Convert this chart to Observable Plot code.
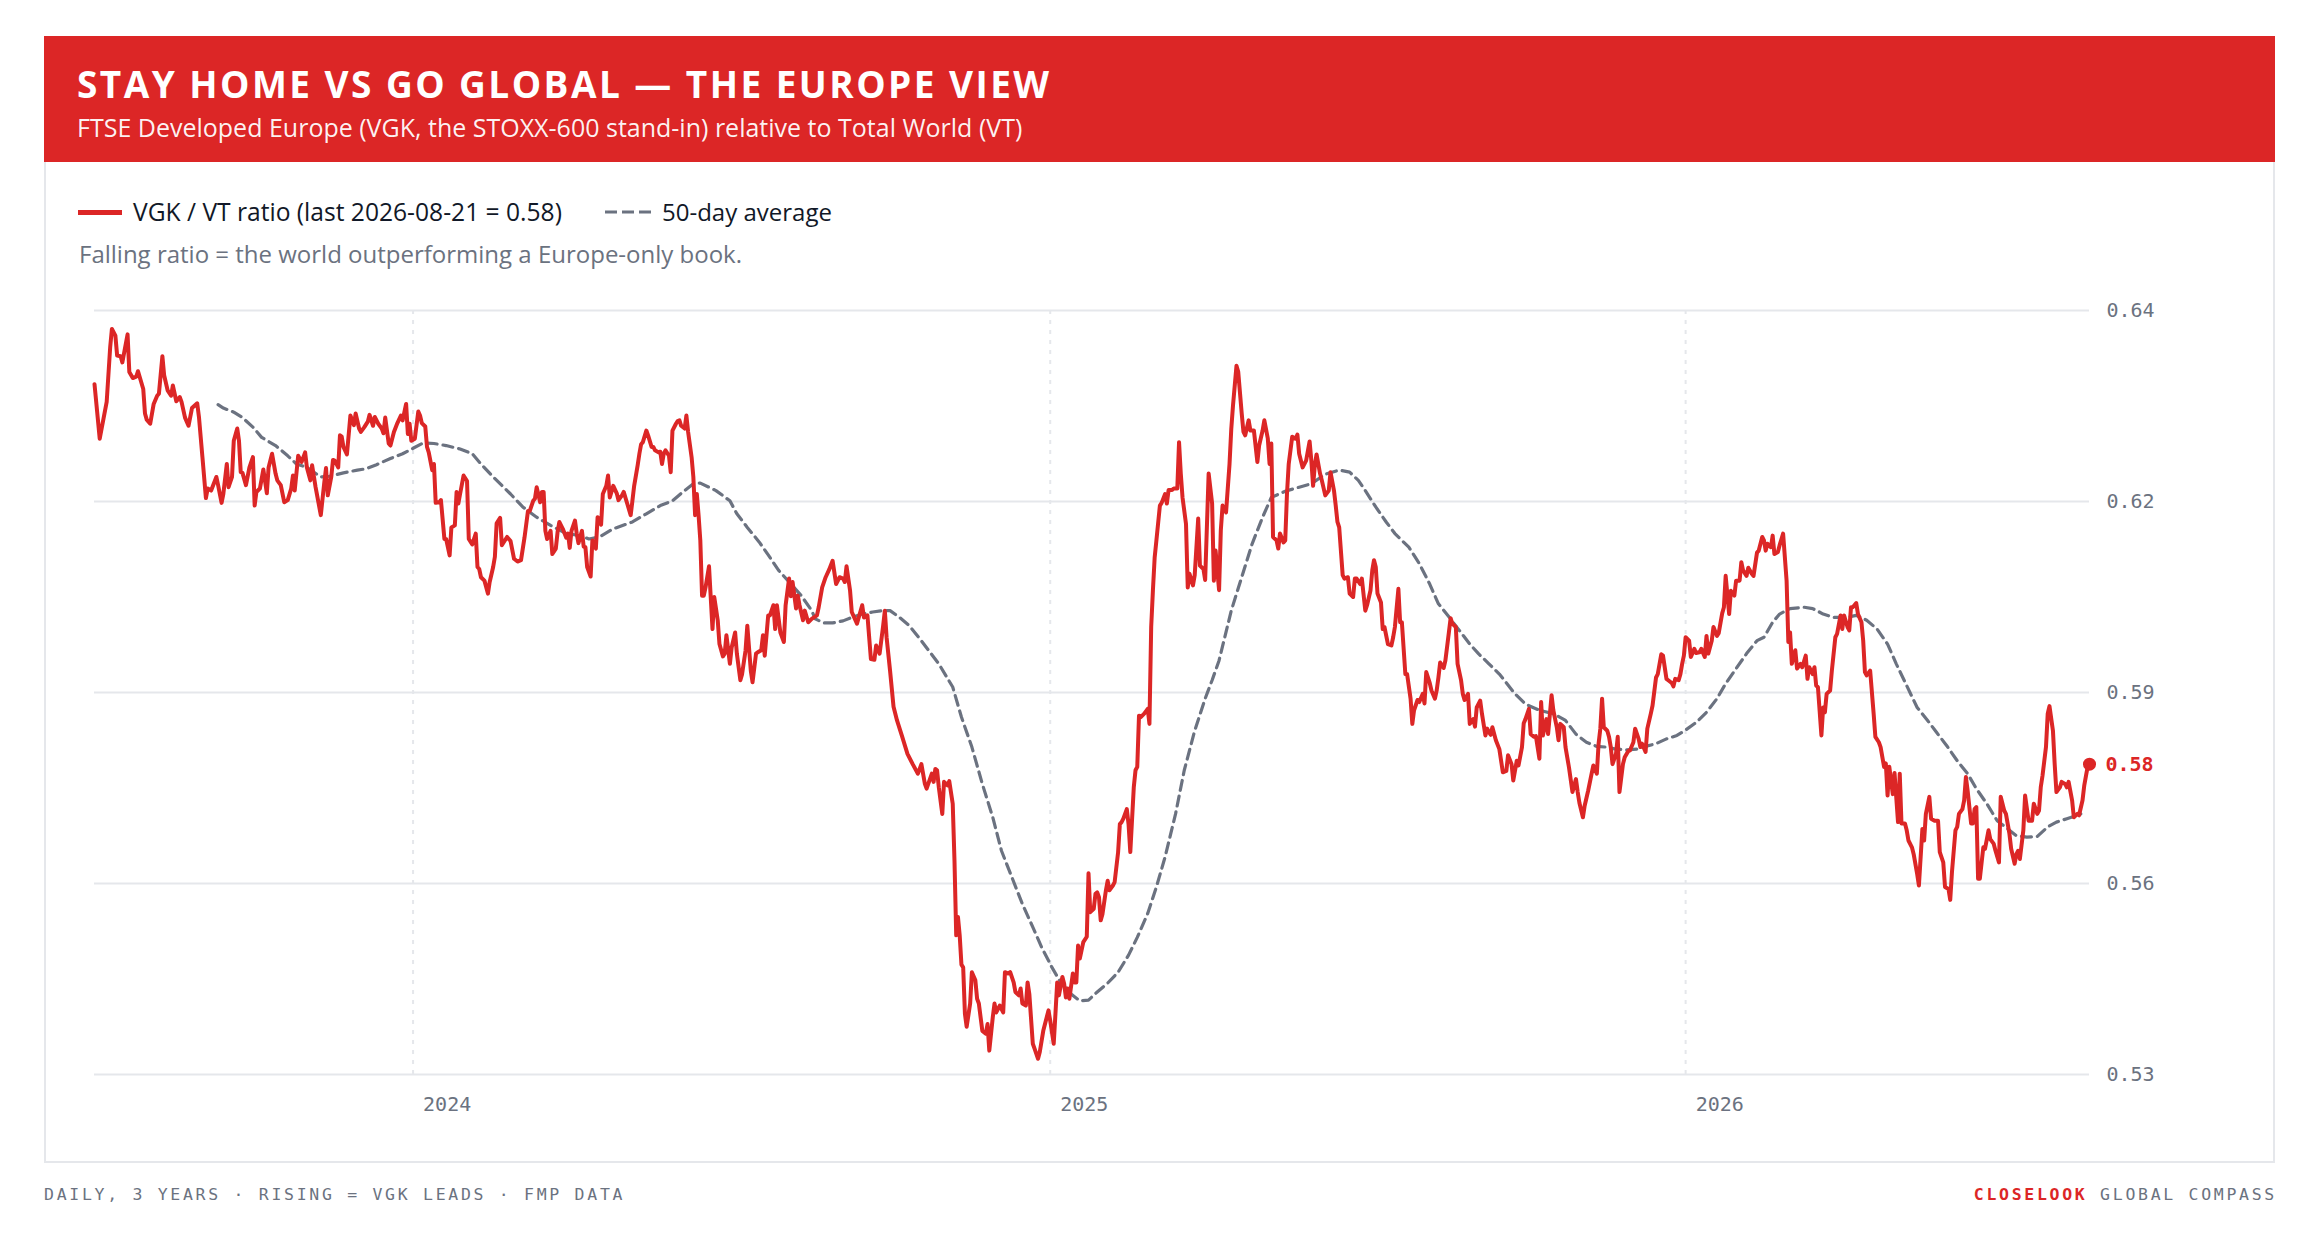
<!DOCTYPE html>
<html><head><meta charset="utf-8">
<script src="https://cdn.jsdelivr.net/npm/d3@7"></script>
<script src="https://cdn.jsdelivr.net/npm/@observablehq/plot@0.6"></script>
<style>
html,body{margin:0;padding:0;background:#fff}
body{width:2320px;height:1242px;position:relative;overflow:hidden;font-family:"Open Sans",sans-serif}
.abs{position:absolute;white-space:nowrap}
#card{left:44px;top:36px;width:2231px;height:1127px;border:2px solid #e5e7eb;box-sizing:border-box}
#header{left:44px;top:36px;width:2231px;height:126px;background:#dc2626}
#title{left:77px;top:65px;font-size:37px;line-height:37px;font-weight:700;color:#fff;letter-spacing:2.45px}
#subtitle{left:77px;top:115px;font-size:25px;line-height:25px;color:rgba(255,255,255,0.95)}
.legtext{font-size:24px;line-height:24px;color:#111827}
#note{left:79px;top:242px;font-size:24px;line-height:24px;color:#6b7280}
.foot{top:1186px;font-family:"DejaVu Sans Mono",monospace;font-size:16.5px;line-height:17px;letter-spacing:2.7px;color:#6b7280}
#chart{left:44px;top:290px}
</style></head>
<body>
<div id="card" class="abs"></div>
<div id="header" class="abs"></div>
<div id="title" class="abs">STAY HOME VS GO GLOBAL — THE EUROPE VIEW</div>
<div id="subtitle" class="abs">FTSE Developed Europe (VGK, the STOXX-600 stand-in) relative to Total World (VT)</div>
<div class="abs" style="left:78px;top:210px;width:44px;height:5px;background:#dc2626"></div>
<div id="leg1" class="abs legtext" style="left:133px;top:200px;font-size:24.6px"></div>
<svg class="abs" style="left:605px;top:209px" width="47" height="6"><line x1="0" x2="47" y1="3" y2="3" stroke="#6b7280" stroke-width="3.2" stroke-dasharray="12,5"/></svg>
<div class="abs legtext" style="left:662px;top:200px">50-day average</div>
<div id="note" class="abs">Falling ratio = the world outperforming a Europe-only book.</div>
<div id="chart" class="abs"></div>
<div class="abs foot" style="left:44px">DAILY, 3 YEARS · RISING = VGK LEADS · FMP DATA</div>
<div class="abs foot" style="right:43px"><span style="color:#dc2626;font-weight:700">CLOSELOOK</span> GLOBAL COMPASS</div>
<script>
// VGK / VT daily ratio
const ratioPoints = [
["2023-07-02",0.6332],["2023-07-05",0.6252],["2023-07-09",0.6306],["2023-07-11",0.6386],["2023-07-12",0.6413],["2023-07-14",0.6403],["2023-07-15",0.6374],["2023-07-17",0.6373],["2023-07-18",0.6364],["2023-07-21",0.6405],["2023-07-22",0.6350],["2023-07-24",0.6341],["2023-07-26",0.6343],["2023-07-27",0.6351],["2023-07-30",0.6325],["2023-07-31",0.6289],
["2023-08-01",0.6280],["2023-08-03",0.6274],["2023-08-05",0.6303],["2023-08-07",0.6315],["2023-08-08",0.6318],["2023-08-10",0.6373],["2023-08-11",0.6345],["2023-08-13",0.6323],["2023-08-15",0.6315],["2023-08-16",0.6330],["2023-08-18",0.6307],["2023-08-20",0.6313],["2023-08-21",0.6306],["2023-08-23",0.6283],["2023-08-25",0.6271],["2023-08-27",0.6297],["2023-08-30",0.6304],["2023-08-31",0.6284],
["2023-09-02",0.6225],["2023-09-04",0.6165],["2023-09-05",0.6179],["2023-09-07",0.6176],["2023-09-10",0.6196],["2023-09-11",0.6184],["2023-09-13",0.6158],["2023-09-14",0.6171],["2023-09-16",0.6215],["2023-09-17",0.6181],["2023-09-19",0.6196],["2023-09-20",0.6249],["2023-09-22",0.6267],["2023-09-23",0.6249],["2023-09-24",0.6203],["2023-09-25",0.6202],["2023-09-27",0.6184],["2023-09-29",0.6210],
["2023-10-01",0.6225],["2023-10-02",0.6154],["2023-10-03",0.6174],["2023-10-05",0.6179],["2023-10-07",0.6207],["2023-10-09",0.6172],["2023-10-10",0.6210],["2023-10-12",0.6230],["2023-10-14",0.6201],["2023-10-15",0.6191],["2023-10-17",0.6184],["2023-10-19",0.6159],["2023-10-21",0.6162],["2023-10-23",0.6179],["2023-10-24",0.6198],["2023-10-25",0.6176],["2023-10-27",0.6227],["2023-10-29",0.6218],["2023-10-31",0.6232],
["2023-11-01",0.6210],["2023-11-03",0.6191],["2023-11-04",0.6213],["2023-11-06",0.6181],["2023-11-09",0.6140],["2023-11-11",0.6188],["2023-11-12",0.6209],["2023-11-13",0.6169],["2023-11-15",0.6196],["2023-11-16",0.6221],["2023-11-17",0.6220],["2023-11-19",0.6210],["2023-11-20",0.6257],["2023-11-21",0.6255],["2023-11-22",0.6240],["2023-11-24",0.6229],["2023-11-26",0.6286],["2023-11-28",0.6272],["2023-11-29",0.6289],
["2023-12-01",0.6267],["2023-12-02",0.6262],["2023-12-04",0.6269],["2023-12-06",0.6277],["2023-12-07",0.6287],["2023-12-09",0.6271],["2023-12-10",0.6284],["2023-12-12",0.6274],["2023-12-14",0.6267],["2023-12-15",0.6260],["2023-12-16",0.6283],["2023-12-18",0.6245],["2023-12-19",0.6242],["2023-12-21",0.6262],["2023-12-23",0.6275],["2023-12-25",0.6286],["2023-12-26",0.6279],["2023-12-28",0.6303],["2023-12-29",0.6259],["2023-12-30",0.6274],["2023-12-31",0.6249],
["2024-01-02",0.6252],["2024-01-04",0.6292],["2024-01-05",0.6286],["2024-01-06",0.6275],["2024-01-08",0.6270],["2024-01-09",0.6240],["2024-01-10",0.6232],["2024-01-12",0.6206],["2024-01-13",0.6215],["2024-01-14",0.6158],["2024-01-16",0.6159],["2024-01-17",0.6162],["2024-01-19",0.6105],["2024-01-20",0.6105],["2024-01-22",0.6081],["2024-01-23",0.6122],["2024-01-25",0.6125],["2024-01-26",0.6174],["2024-01-27",0.6157],["2024-01-28",0.6171],["2024-01-30",0.6198],
["2024-02-01",0.6190],["2024-02-02",0.6105],["2024-02-04",0.6097],["2024-02-06",0.6113],["2024-02-07",0.6064],["2024-02-08",0.6061],["2024-02-09",0.6049],["2024-02-11",0.6044],["2024-02-13",0.6025],["2024-02-14",0.6042],["2024-02-16",0.6064],["2024-02-17",0.6079],["2024-02-18",0.6128],["2024-02-20",0.6136],["2024-02-21",0.6096],["2024-02-24",0.6108],["2024-02-26",0.6102],["2024-02-28",0.6076],
["2024-03-01",0.6072],["2024-03-03",0.6074],["2024-03-05",0.6107],["2024-03-07",0.6146],["2024-03-08",0.6146],["2024-03-10",0.6161],["2024-03-11",0.6164],["2024-03-12",0.6181],["2024-03-14",0.6159],["2024-03-15",0.6174],["2024-03-16",0.6174],["2024-03-17",0.6117],["2024-03-18",0.6105],["2024-03-20",0.6117],["2024-03-21",0.6083],["2024-03-23",0.6091],["2024-03-24",0.6115],["2024-03-25",0.6130],["2024-03-27",0.6120],["2024-03-29",0.6107],["2024-03-30",0.6113],["2024-03-31",0.6092],
["2024-04-01",0.6117],["2024-04-03",0.6132],["2024-04-04",0.6113],["2024-04-05",0.6099],["2024-04-07",0.6117],["2024-04-08",0.6094],["2024-04-09",0.6093],["2024-04-10",0.6064],["2024-04-12",0.6050],["2024-04-13",0.6103],["2024-04-15",0.6091],["2024-04-16",0.6137],["2024-04-18",0.6126],["2024-04-19",0.6171],["2024-04-21",0.6183],["2024-04-22",0.6198],["2024-04-23",0.6166],["2024-04-25",0.6183],["2024-04-27",0.6172],["2024-04-28",0.6162],["2024-04-30",0.6169],
["2024-05-01",0.6174],["2024-05-03",0.6157],["2024-05-05",0.6140],["2024-05-06",0.6161],["2024-05-07",0.6183],["2024-05-09",0.6213],["2024-05-10",0.6230],["2024-05-11",0.6244],["2024-05-12",0.6247],["2024-05-14",0.6264],["2024-05-15",0.6257],["2024-05-17",0.6240],["2024-05-18",0.6240],["2024-05-19",0.6235],["2024-05-21",0.6232],["2024-05-22",0.6233],["2024-05-23",0.6215],["2024-05-24",0.6230],["2024-05-25",0.6235],["2024-05-27",0.6227],["2024-05-28",0.6203],["2024-05-29",0.6264],["2024-05-31",0.6274],
["2024-06-01",0.6278],["2024-06-02",0.6279],["2024-06-03",0.6271],["2024-06-05",0.6267],["2024-06-06",0.6286],["2024-06-07",0.6262],["2024-06-09",0.6225],["2024-06-10",0.6196],["2024-06-11",0.6140],["2024-06-12",0.6171],["2024-06-13",0.6140],["2024-06-14",0.6103],["2024-06-15",0.6022],["2024-06-16",0.6022],["2024-06-17",0.6034],["2024-06-19",0.6065],["2024-06-21",0.5973],["2024-06-22",0.6020],["2024-06-23",0.6003],["2024-06-24",0.5986],["2024-06-25",0.5951],["2024-06-27",0.5933],["2024-06-28",0.5937],["2024-06-29",0.5964],
["2024-07-01",0.5922],["2024-07-02",0.5946],["2024-07-04",0.5968],["2024-07-05",0.5937],["2024-07-07",0.5898],["2024-07-08",0.5907],["2024-07-10",0.5942],["2024-07-11",0.5978],["2024-07-13",0.5912],["2024-07-14",0.5895],["2024-07-16",0.5937],["2024-07-17",0.5939],["2024-07-19",0.5942],["2024-07-20",0.5964],["2024-07-21",0.5934],["2024-07-23",0.5993],["2024-07-24",0.5993],["2024-07-26",0.6008],["2024-07-27",0.5973],["2024-07-28",0.6008],["2024-07-30",0.5968],
["2024-08-01",0.5954],["2024-08-02",0.6008],["2024-08-04",0.6047],["2024-08-05",0.6021],["2024-08-06",0.6042],["2024-08-08",0.6003],["2024-08-09",0.6022],["2024-08-10",0.6008],["2024-08-12",0.5986],["2024-08-13",0.6000],["2024-08-15",0.5983],["2024-08-17",0.5988],["2024-08-20",0.5993],["2024-08-21",0.6005],["2024-08-23",0.6034],["2024-08-25",0.6049],["2024-08-27",0.6060],["2024-08-29",0.6073],["2024-08-31",0.6039],
["2024-09-02",0.6049],["2024-09-04",0.6047],["2024-09-05",0.6042],["2024-09-06",0.6065],["2024-09-08",0.6030],["2024-09-09",0.5998],["2024-09-12",0.5981],["2024-09-13",0.5990],["2024-09-15",0.6008],["2024-09-16",0.5990],["2024-09-18",0.5993],["2024-09-20",0.5929],["2024-09-22",0.5928],["2024-09-23",0.5949],["2024-09-25",0.5937],["2024-09-27",0.5977],["2024-09-28",0.6000],["2024-09-29",0.5961],
["2024-10-01",0.5912],["2024-10-03",0.5859],["2024-10-05",0.5839],["2024-10-08",0.5815],["2024-10-11",0.5790],["2024-10-14",0.5775],["2024-10-17",0.5761],["2024-10-19",0.5775],["2024-10-21",0.5746],["2024-10-22",0.5739],["2024-10-25",0.5761],["2024-10-26",0.5749],["2024-10-27",0.5768],["2024-10-28",0.5766],["2024-10-29",0.5741],["2024-10-31",0.5702],
["2024-11-01",0.5749],["2024-11-03",0.5744],["2024-11-04",0.5750],["2024-11-06",0.5717],["2024-11-07",0.5634],["2024-11-08",0.5524],["2024-11-09",0.5551],["2024-11-10",0.5524],["2024-11-11",0.5481],["2024-11-12",0.5477],["2024-11-13",0.5409],["2024-11-14",0.5390],["2024-11-16",0.5424],["2024-11-17",0.5470],["2024-11-19",0.5458],["2024-11-20",0.5431],["2024-11-21",0.5424],["2024-11-23",0.5384],["2024-11-25",0.5380],["2024-11-26",0.5394],["2024-11-27",0.5355],["2024-11-29",0.5404],["2024-11-30",0.5424],
["2024-12-01",0.5411],["2024-12-03",0.5421],["2024-12-05",0.5411],["2024-12-06",0.5470],["2024-12-08",0.5468],["2024-12-09",0.5470],["2024-12-11",0.5455],["2024-12-12",0.5441],["2024-12-14",0.5436],["2024-12-15",0.5446],["2024-12-16",0.5424],["2024-12-18",0.5421],["2024-12-19",0.5455],["2024-12-20",0.5438],["2024-12-22",0.5365],["2024-12-23",0.5358],["2024-12-25",0.5343],["2024-12-26",0.5353],["2024-12-28",0.5384],["2024-12-30",0.5404],["2024-12-31",0.5414],
["2025-01-01",0.5399],["2025-01-03",0.5365],["2025-01-04",0.5409],["2025-01-05",0.5455],["2025-01-06",0.5436],["2025-01-08",0.5463],["2025-01-09",0.5453],["2025-01-10",0.5433],["2025-01-11",0.5446],["2025-01-12",0.5431],["2025-01-14",0.5468],["2025-01-15",0.5455],["2025-01-16",0.5455],["2025-01-17",0.5509],["2025-01-18",0.5490],["2025-01-19",0.5502],["2025-01-20",0.5514],["2025-01-22",0.5522],["2025-01-23",0.5615],["2025-01-24",0.5558],["2025-01-26",0.5563],["2025-01-27",0.5585],["2025-01-28",0.5587],["2025-01-29",0.5580],["2025-01-30",0.5546],["2025-01-31",0.5555],
["2025-02-02",0.5590],["2025-02-03",0.5604],["2025-02-04",0.5590],["2025-02-06",0.5597],["2025-02-07",0.5602],["2025-02-09",0.5646],["2025-02-10",0.5687],["2025-02-11",0.5690],["2025-02-12",0.5695],["2025-02-14",0.5709],["2025-02-15",0.5687],["2025-02-16",0.5646],["2025-02-18",0.5741],["2025-02-19",0.5766],["2025-02-20",0.5771],["2025-02-21",0.5846],["2025-02-22",0.5844],["2025-02-24",0.5849],["2025-02-26",0.5856],["2025-02-27",0.5834],["2025-02-28",0.5976],
["2025-03-01",0.6030],["2025-03-02",0.6078],["2025-03-03",0.6103],["2025-03-05",0.6154],["2025-03-06",0.6158],["2025-03-08",0.6171],["2025-03-09",0.6157],["2025-03-10",0.6177],["2025-03-12",0.6177],["2025-03-13",0.6179],["2025-03-15",0.6179],["2025-03-16",0.6247],["2025-03-17",0.6201],["2025-03-18",0.6166],["2025-03-20",0.6127],["2025-03-21",0.6034],["2025-03-22",0.6054],["2025-03-24",0.6037],["2025-03-25",0.6052],["2025-03-27",0.6135],["2025-03-28",0.6066],["2025-03-30",0.6061],["2025-03-31",0.6045],
["2025-04-02",0.6201],["2025-04-04",0.6157],["2025-04-05",0.6044],["2025-04-06",0.6088],["2025-04-08",0.6030],["2025-04-09",0.6118],["2025-04-10",0.6154],["2025-04-12",0.6144],["2025-04-14",0.6215],["2025-04-15",0.6266],["2025-04-16",0.6301],["2025-04-18",0.6359],["2025-04-19",0.6350],["2025-04-21",0.6289],["2025-04-22",0.6262],["2025-04-23",0.6257],["2025-04-25",0.6279],["2025-04-26",0.6264],["2025-04-28",0.6264],["2025-04-30",0.6218],
["2025-05-01",0.6242],["2025-05-03",0.6264],["2025-05-04",0.6279],["2025-05-06",0.6252],["2025-05-07",0.6215],["2025-05-08",0.6245],["2025-05-09",0.6108],["2025-05-11",0.6103],["2025-05-12",0.6091],["2025-05-13",0.6113],["2025-05-15",0.6100],["2025-05-16",0.6103],["2025-05-17",0.6171],["2025-05-18",0.6215],["2025-05-20",0.6255],["2025-05-22",0.6252],["2025-05-23",0.6258],["2025-05-24",0.6230],["2025-05-26",0.6210],["2025-05-28",0.6220],["2025-05-30",0.6248],["2025-05-31",0.6220],
["2025-06-01",0.6183],["2025-06-02",0.6213],["2025-06-03",0.6229],["2025-06-05",0.6201],["2025-06-06",0.6191],["2025-06-08",0.6169],["2025-06-10",0.6176],["2025-06-11",0.6203],["2025-06-13",0.6176],["2025-06-14",0.6154],["2025-06-15",0.6130],["2025-06-16",0.6122],["2025-06-18",0.6052],["2025-06-19",0.6047],["2025-06-21",0.6049],["2025-06-22",0.6025],["2025-06-24",0.6020],["2025-06-25",0.6047],["2025-06-26",0.6047],["2025-06-28",0.6039],["2025-06-29",0.6047],
["2025-07-01",0.6000],["2025-07-02",0.6008],["2025-07-04",0.6030],["2025-07-05",0.6059],["2025-07-06",0.6074],["2025-07-07",0.6064],["2025-07-08",0.6025],["2025-07-10",0.6012],["2025-07-11",0.5973],["2025-07-12",0.5976],["2025-07-14",0.5951],["2025-07-16",0.5949],["2025-07-17",0.5961],["2025-07-18",0.5976],["2025-07-20",0.6032],["2025-07-21",0.5983],["2025-07-22",0.5983],["2025-07-24",0.5907],["2025-07-25",0.5907],["2025-07-27",0.5871],["2025-07-28",0.5834],["2025-07-29",0.5854],["2025-07-31",0.5869],
["2025-08-01",0.5866],["2025-08-03",0.5878],["2025-08-04",0.5864],["2025-08-05",0.5910],["2025-08-07",0.5894],["2025-08-08",0.5883],["2025-08-10",0.5871],["2025-08-11",0.5883],["2025-08-12",0.5902],["2025-08-13",0.5924],["2025-08-15",0.5916],["2025-08-16",0.5927],["2025-08-18",0.5968],["2025-08-19",0.5989],["2025-08-20",0.5981],["2025-08-22",0.5976],["2025-08-23",0.5922],["2025-08-25",0.5898],["2025-08-26",0.5878],["2025-08-27",0.5869],["2025-08-29",0.5878],["2025-08-30",0.5834],
["2025-09-01",0.5841],["2025-09-02",0.5830],["2025-09-03",0.5858],["2025-09-05",0.5868],["2025-09-06",0.5849],["2025-09-08",0.5817],["2025-09-09",0.5827],["2025-09-10",0.5822],["2025-09-11",0.5818],["2025-09-12",0.5829],["2025-09-14",0.5810],["2025-09-16",0.5797],["2025-09-18",0.5763],["2025-09-20",0.5765],["2025-09-21",0.5788],["2025-09-23",0.5775],["2025-09-24",0.5751],["2025-09-26",0.5780],["2025-09-27",0.5773],["2025-09-29",0.5800],["2025-09-30",0.5835],
["2025-10-01",0.5841],["2025-10-03",0.5856],["2025-10-04",0.5819],["2025-10-06",0.5815],["2025-10-07",0.5816],["2025-10-09",0.5783],["2025-10-10",0.5866],["2025-10-11",0.5817],["2025-10-13",0.5841],["2025-10-14",0.5819],["2025-10-16",0.5876],["2025-10-17",0.5854],["2025-10-19",0.5829],["2025-10-20",0.5810],["2025-10-21",0.5834],["2025-10-23",0.5829],["2025-10-24",0.5800],["2025-10-26",0.5770],["2025-10-28",0.5734],["2025-10-30",0.5753],["2025-10-31",0.5734],
["2025-11-01",0.5718],["2025-11-03",0.5697],["2025-11-04",0.5714],["2025-11-06",0.5736],["2025-11-08",0.5761],["2025-11-09",0.5773],["2025-11-11",0.5761],["2025-11-12",0.5805],["2025-11-13",0.5827],["2025-11-14",0.5871],["2025-11-15",0.5829],["2025-11-17",0.5824],["2025-11-18",0.5815],["2025-11-19",0.5800],["2025-11-20",0.5775],["2025-11-22",0.5790],["2025-11-23",0.5815],["2025-11-24",0.5734],["2025-11-26",0.5775],["2025-11-27",0.5785],["2025-11-29",0.5794],["2025-11-30",0.5795],
["2025-12-02",0.5807],["2025-12-03",0.5827],["2025-12-05",0.5812],["2025-12-06",0.5800],["2025-12-07",0.5805],["2025-12-09",0.5793],["2025-12-10",0.5827],["2025-12-12",0.5849],["2025-12-13",0.5861],["2025-12-15",0.5902],["2025-12-16",0.5907],["2025-12-18",0.5936],["2025-12-19",0.5934],["2025-12-21",0.5900],["2025-12-22",0.5898],["2025-12-24",0.5894],["2025-12-25",0.5889],["2025-12-26",0.5900],["2025-12-28",0.5898],["2025-12-29",0.5907],["2025-12-30",0.5922],["2025-12-31",0.5934],
["2026-01-01",0.5961],["2026-01-03",0.5956],["2026-01-04",0.5932],["2026-01-06",0.5944],["2026-01-07",0.5938],["2026-01-09",0.5939],["2026-01-10",0.5944],["2026-01-12",0.5932],["2026-01-13",0.5963],["2026-01-14",0.5937],["2026-01-16",0.5956],["2026-01-17",0.5976],["2026-01-19",0.5963],["2026-01-20",0.5967],["2026-01-22",0.5996],["2026-01-23",0.6005],["2026-01-24",0.6051],["2026-01-26",0.5995],["2026-01-27",0.6029],["2026-01-29",0.6022],["2026-01-30",0.6044],
["2026-02-01",0.6044],["2026-02-02",0.6071],["2026-02-03",0.6059],["2026-02-05",0.6051],["2026-02-06",0.6063],["2026-02-08",0.6054],["2026-02-09",0.6051],["2026-02-11",0.6085],["2026-02-12",0.6088],["2026-02-14",0.6108],["2026-02-15",0.6103],["2026-02-16",0.6088],["2026-02-17",0.6098],["2026-02-19",0.6093],["2026-02-20",0.6110],["2026-02-21",0.6083],["2026-02-23",0.6086],["2026-02-24",0.6096],["2026-02-26",0.6113],["2026-02-28",0.6044],
["2026-03-01",0.5954],["2026-03-02",0.5968],["2026-03-03",0.5922],["2026-03-05",0.5942],["2026-03-06",0.5915],["2026-03-08",0.5922],["2026-03-09",0.5917],["2026-03-11",0.5934],["2026-03-12",0.5900],["2026-03-13",0.5917],["2026-03-15",0.5907],["2026-03-16",0.5917],["2026-03-17",0.5890],["2026-03-18",0.5888],["2026-03-20",0.5817],["2026-03-21",0.5858],["2026-03-22",0.5851],["2026-03-23",0.5878],["2026-03-25",0.5883],["2026-03-26",0.5912],["2026-03-28",0.5961],["2026-03-29",0.5966],["2026-03-31",0.5993],
["2026-04-01",0.5973],["2026-04-02",0.5993],["2026-04-04",0.5976],["2026-04-05",0.5971],["2026-04-06",0.6005],["2026-04-07",0.6005],["2026-04-09",0.6011],["2026-04-10",0.5995],["2026-04-12",0.5983],["2026-04-13",0.5956],["2026-04-14",0.5910],["2026-04-15",0.5905],["2026-04-17",0.5912],["2026-04-19",0.5849],["2026-04-20",0.5815],["2026-04-22",0.5807],["2026-04-23",0.5800],["2026-04-25",0.5771],["2026-04-26",0.5776],["2026-04-27",0.5729],["2026-04-28",0.5771],["2026-04-30",0.5731],
["2026-05-01",0.5762],["2026-05-03",0.5690],["2026-05-04",0.5761],["2026-05-05",0.5688],["2026-05-07",0.5688],["2026-05-08",0.5678],["2026-05-09",0.5663],["2026-05-11",0.5653],["2026-05-12",0.5643],["2026-05-14",0.5614],["2026-05-15",0.5597],["2026-05-17",0.5680],["2026-05-18",0.5663],["2026-05-19",0.5702],["2026-05-21",0.5727],["2026-05-22",0.5695],["2026-05-24",0.5692],["2026-05-26",0.5692],["2026-05-27",0.5646],["2026-05-29",0.5631],["2026-05-30",0.5595],
["2026-06-01",0.5592],["2026-06-02",0.5576],["2026-06-03",0.5617],["2026-06-05",0.5678],["2026-06-06",0.5683],["2026-06-07",0.5702],["2026-06-09",0.5709],["2026-06-10",0.5722],["2026-06-11",0.5756],["2026-06-12",0.5736],["2026-06-14",0.5688],["2026-06-15",0.5688],["2026-06-16",0.5709],["2026-06-17",0.5712],["2026-06-18",0.5607],["2026-06-19",0.5607],["2026-06-21",0.5653],["2026-06-22",0.5651],["2026-06-24",0.5678],["2026-06-25",0.5665],["2026-06-27",0.5658],["2026-06-28",0.5648],["2026-06-30",0.5631],
["2026-07-01",0.5727],["2026-07-03",0.5707],["2026-07-04",0.5702],["2026-07-06",0.5673],["2026-07-07",0.5651],["2026-07-09",0.5629],["2026-07-10",0.5643],["2026-07-11",0.5648],["2026-07-12",0.5636],["2026-07-14",0.5678],["2026-07-15",0.5729],["2026-07-17",0.5692],["2026-07-19",0.5692],["2026-07-20",0.5717],["2026-07-22",0.5702],["2026-07-23",0.5707],["2026-07-24",0.5741],["2026-07-25",0.5758],["2026-07-27",0.5800],["2026-07-28",0.5849],["2026-07-29",0.5860],["2026-07-31",0.5824],
["2026-08-01",0.5775],["2026-08-02",0.5734],["2026-08-04",0.5741],["2026-08-05",0.5749],["2026-08-07",0.5746],["2026-08-08",0.5741],["2026-08-09",0.5749],["2026-08-11",0.5722],["2026-08-12",0.5697],["2026-08-14",0.5702],["2026-08-15",0.5700],["2026-08-17",0.5722],["2026-08-18",0.5744],["2026-08-19",0.5758],["2026-08-20",0.5772],["2026-08-21",0.5775]
];
// 50-day average
const maPoints = [
["2023-09-11",0.6302],["2023-09-14",0.6297],["2023-09-20",0.6291],["2023-09-25",0.6283],["2023-10-01",0.6269],["2023-10-06",0.6254],["2023-10-14",0.6242],["2023-10-21",0.6227],["2023-10-26",0.6215],["2023-11-01",0.6210],["2023-11-09",0.6196],["2023-11-14",0.6197],["2023-11-22",0.6202],["2023-11-30",0.6206],["2023-12-05",0.6208],["2023-12-11",0.6214],["2023-12-19",0.6223],["2023-12-26",0.6230],
["2024-01-01",0.6238],["2024-01-07",0.6246],["2024-01-13",0.6245],["2024-01-20",0.6242],["2024-01-28",0.6237],["2024-02-04",0.6230],["2024-02-09",0.6215],["2024-02-16",0.6196],["2024-02-26",0.6171],["2024-03-04",0.6152],["2024-03-12",0.6137],["2024-03-20",0.6125],["2024-03-29",0.6113],["2024-04-06",0.6110],["2024-04-11",0.6105],["2024-04-17",0.6108],["2024-04-25",0.6120],["2024-05-06",0.6130],["2024-05-14",0.6142],["2024-05-22",0.6154],["2024-05-29",0.6161],["2024-06-04",0.6174],["2024-06-10",0.6186],["2024-06-14",0.6187],["2024-06-23",0.6176],
["2024-07-01",0.6161],["2024-07-05",0.6142],["2024-07-11",0.6122],["2024-07-18",0.6100],["2024-07-24",0.6078],["2024-07-29",0.6059],["2024-08-04",0.6042],["2024-08-11",0.6022],["2024-08-17",0.6000],["2024-08-19",0.5988],["2024-08-24",0.5982],["2024-08-29",0.5982],["2024-09-04",0.5985],["2024-09-09",0.5990],["2024-09-15",0.5995],["2024-09-21",0.5998],["2024-09-27",0.6000],["2024-10-01",0.6000],["2024-10-06",0.5991],["2024-10-12",0.5978],["2024-10-18",0.5959],["2024-10-29",0.5922],
["2024-11-06",0.5888],["2024-11-11",0.5844],["2024-11-17",0.5800],["2024-11-23",0.5746],["2024-11-29",0.5697],["2024-12-04",0.5648],["2024-12-10",0.5609],["2024-12-16",0.5570],["2024-12-22",0.5536],["2024-12-27",0.5507],
["2025-01-02",0.5477],["2025-01-07",0.5455],["2025-01-13",0.5438],["2025-01-18",0.5428],["2025-01-23",0.5429],["2025-01-28",0.5441],["2025-02-03",0.5454],["2025-02-09",0.5470],["2025-02-15",0.5495],["2025-02-20",0.5521],["2025-02-26",0.5556],["2025-03-03",0.5595],["2025-03-08",0.5639],["2025-03-14",0.5702],["2025-03-19",0.5766],["2025-03-25",0.5824],["2025-03-31",0.5871],["2025-04-04",0.5898],["2025-04-08",0.5927],["2025-04-15",0.6000],["2025-04-21",0.6049],["2025-04-27",0.6098],["2025-05-03",0.6137],["2025-05-08",0.6166],["2025-05-16",0.6175],["2025-05-24",0.6181],["2025-05-31",0.6186],["2025-06-08",0.6200],["2025-06-16",0.6206],["2025-06-22",0.6203],["2025-06-27",0.6191],
["2025-07-01",0.6176],["2025-07-07",0.6152],["2025-07-13",0.6130],["2025-07-18",0.6113],["2025-07-26",0.6093],["2025-08-01",0.6069],["2025-08-07",0.6039],["2025-08-12",0.6010],["2025-08-18",0.5991],["2025-08-24",0.5971],["2025-08-30",0.5951],["2025-09-04",0.5937],["2025-09-10",0.5922],["2025-09-16",0.5907],["2025-09-25",0.5878],["2025-10-01",0.5863],["2025-10-09",0.5854],["2025-10-17",0.5849],["2025-10-24",0.5839],["2025-10-30",0.5819],["2025-11-05",0.5807],["2025-11-11",0.5801],["2025-11-16",0.5800],["2025-11-22",0.5797],["2025-11-28",0.5796],["2025-12-04",0.5797],["2025-12-09",0.5801],["2025-12-15",0.5805],["2025-12-21",0.5812],["2025-12-27",0.5817],
["2026-01-01",0.5825],["2026-01-07",0.5836],["2026-01-13",0.5851],["2026-01-19",0.5871],["2026-01-24",0.5893],["2026-01-30",0.5915],["2026-02-05",0.5937],["2026-02-11",0.5956],["2026-02-15",0.5961],["2026-02-20",0.5983],["2026-02-24",0.5995],["2026-03-02",0.6003],["2026-03-10",0.6005],["2026-03-15",0.6003],["2026-03-21",0.5995],["2026-03-27",0.5990],["2026-04-03",0.5990],["2026-04-09",0.5993],["2026-04-15",0.5986],["2026-04-21",0.5973],["2026-04-27",0.5951],["2026-05-02",0.5922],["2026-05-08",0.5890],["2026-05-14",0.5858],["2026-05-20",0.5839],["2026-05-25",0.5822],["2026-05-31",0.5802],["2026-06-06",0.5780],["2026-06-12",0.5761],["2026-06-17",0.5739],["2026-06-23",0.5717],["2026-06-29",0.5692],["2026-07-05",0.5680],["2026-07-10",0.5670],["2026-07-16",0.5668],["2026-07-22",0.5669],["2026-07-28",0.5683],["2026-08-02",0.5690],["2026-08-08",0.5695],["2026-08-14",0.5700],["2026-08-16",0.5702]
];
const yTicks = [0.532, 0.560, 0.588, 0.616, 0.644];
const yDomain = [0.532, 0.644];
const xTicks = ["2024-01-01", "2025-01-01", "2026-01-01"];

const ratio = ratioPoints.map(([d, v]) => ({date: new Date(d), value: v}));
const ma = maPoints.map(([d, v]) => ({date: new Date(d), value: v}));
const last = ratio[ratio.length - 1];
const fmt2 = d3.format(".2f");

document.getElementById("leg1").textContent =
  `VGK / VT ratio (last ${d3.utcFormat("%Y-%m-%d")(last.date)} = ${fmt2(last.value)})`;

const chart = Plot.plot({
  width: 2231,
  height: 850,
  marginLeft: 50,
  marginRight: 186,
  marginTop: 20,
  marginBottom: 66,
  style: {fontFamily: "DejaVu Sans Mono, monospace", fontSize: "20px", color: "#6b7280", background: "transparent", overflow: "visible"},
  x: {type: "utc"},
  y: {domain: yDomain},
  marks: [
    Plot.gridY(yTicks, {stroke: "#e5e7eb", strokeOpacity: 1, strokeWidth: 2}),
    Plot.gridX(xTicks.map(d => new Date(d)), {stroke: "#e5e7eb", strokeOpacity: 1, strokeWidth: 2, strokeDasharray: "4,6"}),
    Plot.axisY(yTicks, {anchor: "right", tickSize: 0, tickPadding: 17, tickFormat: fmt2, label: null, fill: "#6b7280"}),
    Plot.axisX(xTicks.map(d => new Date(d)), {anchor: "bottom", tickSize: 0, tickPadding: 22, tickFormat: d3.utcFormat("%Y"), textAnchor: "start", dx: 10, label: null, fill: "#6b7280"}),
    Plot.lineY(ma, {x: "date", y: "value", stroke: "#6b7280", strokeWidth: 3.2, strokeDasharray: "10,6"}),
    Plot.lineY(ratio, {x: "date", y: "value", stroke: "#dc2626", strokeWidth: 4, strokeLinejoin: "round"}),
    Plot.dot([last], {x: "date", y: "value", r: 6.5, fill: "#dc2626"}),
    Plot.text([last], {x: "date", y: "value", text: d => fmt2(d.value), textAnchor: "start", dx: 16, fill: "#dc2626", fontWeight: "bold", fontSize: 20})
  ]
});
document.getElementById("chart").appendChild(chart);
</script>
</body></html>
